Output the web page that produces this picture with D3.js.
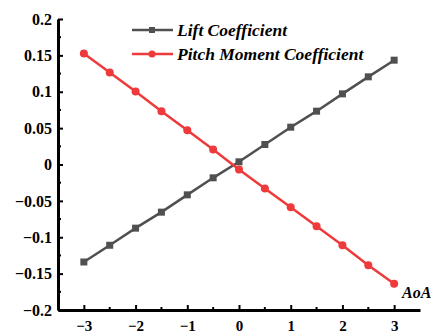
<!DOCTYPE html>
<html>
<head>
<meta charset="utf-8">
<script src="https://cdn.jsdelivr.net/npm/d3@7"></script>
<style>
  html, body { margin: 0; padding: 0; background: #fff; }
  svg { display: block; }
  svg text { font-family: "Liberation Serif", "DejaVu Serif", "Times New Roman", serif; font-weight: bold; fill: #000; }
</style>
</head>
<body>
<svg id="chart" width="432" height="331"></svg>
<script>
// Angle of attack samples and the two coefficient series
const aoa = [-3, -2.5, -2, -1.5, -1, -0.5, 0, 0.5, 1, 1.5, 2, 2.5, 3];
const liftCoeff = [-0.134, -0.111, -0.0875, -0.0655, -0.0417, -0.0183, 0.0037, 0.0275, 0.0513, 0.0733, 0.0971, 0.1205, 0.1434];
const pitchCoeff = [0.1526, 0.1265, 0.1003, 0.0733, 0.0471, 0.0206, -0.0069, -0.033, -0.0587, -0.0848, -0.111, -0.1384, -0.164];
const xTicks = [-3, -2, -1, 0, 1, 2, 3];
const yTicks = [-0.2, -0.15, -0.1, -0.05, 0, 0.05, 0.1, 0.15, 0.2];
const seriesNames = ["Lift Coefficient", "Pitch Moment Coefficient"];
const seriesColors = ["#505050", "#ee3a3a"];

const svg = d3.select("#chart");
const plotLeft = 58, plotRight = 420, plotTop = 19, plotBottom = 310;

const x = d3.scaleLinear().domain([-3.5, 3.5]).range([plotLeft, plotRight]);
const y = d3.scaleLinear().domain([-0.2, 0.2]).range([plotBottom, plotTop]);

const fmtY = v => (v === 0 ? "0" : String(+v.toFixed(2))).replace("-", "\u2212");
const fmtX = v => String(v).replace("-", "\u2212");

// Minor ticks (inward, short)
const xMinor = d3.range(-3, 3.01, 0.5).filter(v => !xTicks.includes(v));
const yMinor = d3.range(-0.175, 0.2, 0.05).map(v => +v.toFixed(3));

const gx = svg.append("g").attr("transform", `translate(0,${plotBottom})`)
  .call(d3.axisBottom(x).tickValues(xTicks).tickFormat(fmtX).tickSize(-5).tickSizeOuter(0).tickPadding(10));
gx.select(".domain").attr("stroke", "#000").attr("stroke-width", 3);
gx.selectAll(".tick line").attr("stroke", "#000").attr("stroke-width", 2);
gx.selectAll(".tick text").attr("font-size", 15);
gx.selectAll(".minor").data(xMinor).enter().append("line")
  .attr("x1", d => x(d)).attr("x2", d => x(d)).attr("y1", 0).attr("y2", -3)
  .attr("stroke", "#000").attr("stroke-width", 2);

const gy = svg.append("g").attr("transform", `translate(${plotLeft},0)`)
  .call(d3.axisLeft(y).tickValues(yTicks).tickFormat(fmtY).tickSize(-5).tickSizeOuter(0).tickPadding(6));
gy.select(".domain").attr("stroke", "#000").attr("stroke-width", 3);
gy.selectAll(".tick line").attr("stroke", "#000").attr("stroke-width", 2);
gy.selectAll(".tick text").attr("font-size", 16);
gy.selectAll(".minor").data(yMinor).enter().append("line")
  .attr("y1", d => y(d)).attr("y2", d => y(d)).attr("x1", 0).attr("x2", 3)
  .attr("stroke", "#000").attr("stroke-width", 2);

// Series lines and markers
const line = d3.line().x(d => x(d[0])).y(d => y(d[1]));
const series = [liftCoeff, pitchCoeff];

series.forEach((vals, i) => {
  const pts = aoa.map((a, k) => [a, vals[k]]);
  svg.append("path").datum(pts).attr("d", line)
    .attr("fill", "none").attr("stroke", seriesColors[i]).attr("stroke-width", 2.5);
  if (i === 0) {
    svg.selectAll(".sq").data(pts).enter().append("rect")
      .attr("x", d => x(d[0]) - 3.5).attr("y", d => y(d[1]) - 3.5)
      .attr("width", 7).attr("height", 7).attr("fill", seriesColors[i]);
  } else {
    svg.selectAll(".ci").data(pts).enter().append("circle")
      .attr("cx", d => x(d[0])).attr("cy", d => y(d[1])).attr("r", 4)
      .attr("fill", seriesColors[i]);
  }
});

// Legend
const legY = [30, 54];
seriesNames.forEach((name, i) => {
  const g = svg.append("g");
  g.append("line").attr("x1", 132).attr("x2", 173).attr("y1", legY[i]).attr("y2", legY[i])
    .attr("stroke", seriesColors[i]).attr("stroke-width", 2.5);
  if (i === 0) {
    g.append("rect").attr("x", 149).attr("y", legY[i] - 3).attr("width", 6).attr("height", 6).attr("fill", seriesColors[i]);
  } else {
    g.append("circle").attr("cx", 152).attr("cy", legY[i]).attr("r", 3.5).attr("fill", seriesColors[i]);
  }
  g.append("text").attr("x", 177).attr("y", legY[i] + 6)
    .attr("font-style", "italic").attr("font-size", 17.5)
    .text(name);
});

// Axis title
svg.append("text").attr("x", 402).attr("y", 298)
  .attr("font-style", "italic").attr("font-size", 16)
  .text("AoA");
</script>
</body>
</html>
